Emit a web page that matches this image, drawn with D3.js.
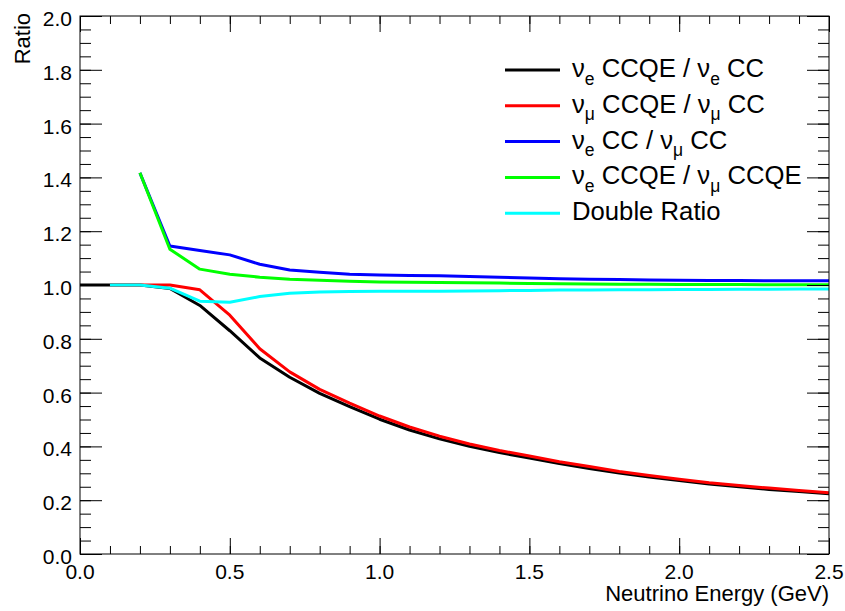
<!DOCTYPE html>
<html>
<head>
<meta charset="utf-8">
<script src="https://cdn.jsdelivr.net/npm/d3@7"></script>
<style>
  html, body { margin: 0; padding: 0; background: #fff; }
  svg { display: block; font-family: "Liberation Sans", Arial, Helvetica, sans-serif; }
</style>
</head>
<body>
<svg id="chart" width="845" height="611"></svg>
<script>
// Neutrino energy (GeV) at which each ratio is evaluated
const energy = [0.0, 0.1, 0.2, 0.3, 0.4, 0.5, 0.6, 0.7, 0.8, 0.9, 1.0, 1.1, 1.2,
                1.3, 1.4, 1.5, 1.6, 1.7, 1.8, 1.9, 2.0, 2.1, 2.2, 2.3, 2.4, 2.5];

// nu_e CCQE / nu_e CC
const nueQEoverCC = [1.0, 1.0, 1.0, 0.987, 0.924, 0.830, 0.729, 0.657, 0.597, 0.548, 0.501, 0.461, 0.428,
                     0.400, 0.377, 0.357, 0.336, 0.318, 0.301, 0.286, 0.273, 0.260, 0.250, 0.240, 0.232, 0.224];
// nu_mu CCQE / nu_mu CC
const numuQEoverCC = [null, 1.0, 1.0, 1.0, 0.982, 0.888, 0.763, 0.677, 0.612, 0.561, 0.513, 0.472, 0.438,
                      0.409, 0.385, 0.364, 0.343, 0.325, 0.307, 0.292, 0.278, 0.265, 0.255, 0.245, 0.236, 0.228];
// nu_e CC / nu_mu CC
const nueCCoverNumuCC = [null, null, 1.417, 1.145, 1.128, 1.112, 1.077, 1.056, 1.047, 1.040, 1.037, 1.035, 1.034,
                         1.032, 1.029, 1.026, 1.023, 1.021, 1.020, 1.019, 1.018, 1.017, 1.017, 1.016, 1.016, 1.016];
// nu_e CCQE / nu_mu CCQE
const nueQEoverNumuQE = [null, null, 1.417, 1.133, 1.059, 1.040, 1.029, 1.021, 1.018, 1.014, 1.011, 1.010, 1.009,
                         1.008, 1.007, 1.006, 1.005, 1.004, 1.003, 1.003, 1.002, 1.002, 1.002, 1.001, 1.001, 1.001];
// (nu_e CCQE / nu_e CC) / (nu_mu CCQE / nu_mu CC)
const doubleRatio = [null, 1.0, 1.0, 0.988, 0.940, 0.936, 0.957, 0.969, 0.974, 0.976, 0.977, 0.977, 0.977,
                     0.978, 0.979, 0.980, 0.981, 0.981, 0.982, 0.982, 0.983, 0.983, 0.984, 0.984, 0.985, 0.985];

const xTicks = [0.0, 0.5, 1.0, 1.5, 2.0, 2.5];
const yTicks = [0.0, 0.2, 0.4, 0.6, 0.8, 1.0, 1.2, 1.4, 1.6, 1.8, 2.0];

const series = [
  { values: nueQEoverCC,     color: "#000000", label: [["ν"], ["e", "sub"], [" CCQE / ν"], ["e", "sub"], [" CC"]] },
  { values: numuQEoverCC,    color: "#ff0000", label: [["ν"], ["μ", "sub"], [" CCQE / ν"], ["μ", "sub"], [" CC"]] },
  { values: nueCCoverNumuCC, color: "#0000ff", label: [["ν"], ["e", "sub"], [" CC / ν"], ["μ", "sub"], [" CC"]] },
  { values: nueQEoverNumuQE, color: "#00ff00", label: [["ν"], ["e", "sub"], [" CCQE / ν"], ["μ", "sub"], [" CCQE"]] },
  { values: doubleRatio,     color: "#00ffff", label: [["Double Ratio"]] }
];

const frame = { left: 80, right: 829, top: 16, bottom: 554 };
const svg = d3.select("#chart");

const x = d3.scaleLinear().domain([0, 2.5]).range([frame.left, frame.right]);
const y = d3.scaleLinear().domain([0, 2]).range([frame.bottom, frame.top]);

svg.append("defs").append("clipPath").attr("id", "plot-clip")
  .append("rect")
  .attr("x", frame.left).attr("y", frame.top)
  .attr("width", frame.right - frame.left).attr("height", frame.bottom - frame.top);

// Curves
const line = d3.line()
  .defined(d => d[1] != null)
  .x(d => x(d[0]))
  .y(d => y(d[1]));

const curves = svg.append("g").attr("clip-path", "url(#plot-clip)");
series.forEach(s => {
  curves.append("path")
    .datum(energy.map((e, i) => [e, s.values[i]]))
    .attr("fill", "none")
    .attr("stroke", s.color)
    .attr("stroke-width", 3)
    .attr("stroke-linejoin", "round")
    .attr("d", line);
});

// Frame
svg.append("rect")
  .attr("x", frame.left).attr("y", frame.top)
  .attr("width", frame.right - frame.left).attr("height", frame.bottom - frame.top)
  .attr("fill", "none").attr("stroke", "#000").attr("stroke-width", 1);

// Axes with ticks drawn inward on all four sides
const xMinor = x.ticks(25);
const yMinor = y.ticks(40);

const axisStyle = g => {
  g.select(".domain").remove();
  g.selectAll(".tick line").attr("stroke", "#000").attr("stroke-width", 1);
};

svg.append("g").attr("transform", `translate(0,${frame.bottom})`)
  .call(d3.axisTop(x).tickValues(xMinor).tickSize(8).tickFormat(""))
  .call(axisStyle);
svg.append("g").attr("transform", `translate(0,${frame.bottom})`)
  .call(d3.axisTop(x).tickValues(xTicks).tickSize(16).tickFormat(""))
  .call(axisStyle);
svg.append("g").attr("transform", `translate(0,${frame.top})`)
  .call(d3.axisBottom(x).tickValues(xMinor).tickSize(8).tickFormat(""))
  .call(axisStyle);
svg.append("g").attr("transform", `translate(0,${frame.top})`)
  .call(d3.axisBottom(x).tickValues(xTicks).tickSize(16).tickFormat(""))
  .call(axisStyle);

svg.append("g").attr("transform", `translate(${frame.left},0)`)
  .call(d3.axisRight(y).tickValues(yMinor).tickSize(11).tickFormat(""))
  .call(axisStyle);
svg.append("g").attr("transform", `translate(${frame.left},0)`)
  .call(d3.axisRight(y).tickValues(yTicks).tickSize(22).tickFormat(""))
  .call(axisStyle);
svg.append("g").attr("transform", `translate(${frame.right},0)`)
  .call(d3.axisLeft(y).tickValues(yMinor).tickSize(11).tickFormat(""))
  .call(axisStyle);
svg.append("g").attr("transform", `translate(${frame.right},0)`)
  .call(d3.axisLeft(y).tickValues(yTicks).tickSize(22).tickFormat(""))
  .call(axisStyle);

// Tick labels
svg.append("g").selectAll("text").data(xTicks).join("text")
  .attr("x", d => x(d)).attr("y", frame.bottom + 25)
  .attr("text-anchor", "middle")
  .attr("font-size", 21)
  .text(d => d3.format(".1f")(d));

svg.append("g").selectAll("text").data(yTicks).join("text")
  .attr("x", frame.left - 8).attr("y", d => y(d) + 10)
  .attr("text-anchor", "end")
  .attr("font-size", 21)
  .text(d => d3.format(".1f")(d));

// Axis titles
svg.append("text")
  .attr("x", frame.right).attr("y", 601)
  .attr("text-anchor", "end")
  .attr("font-size", 22)
  .text("Neutrino Energy (GeV)");

svg.append("text")
  .attr("transform", "translate(30,13) rotate(-90)")
  .attr("text-anchor", "end")
  .attr("font-size", 22)
  .text("Ratio");

// Legend
const legend = svg.append("g");
const legendTop = 70, legendStep = 35.8;
series.forEach((s, i) => {
  const ly = legendTop + i * legendStep;
  legend.append("line")
    .attr("x1", 505).attr("x2", 560)
    .attr("y1", ly).attr("y2", ly)
    .attr("stroke", s.color).attr("stroke-width", 3);
  const t = legend.append("text")
    .attr("x", 572).attr("y", ly + 7)
    .attr("font-size", 25.7);
  s.label.forEach(([str, kind]) => {
    if (kind === "sub") {
      t.append("tspan").attr("font-size", 17.5).attr("dy", 7.5).text(str);
    } else {
      const sp = t.append("tspan").text(str);
      const prev = t.selectAll("tspan").size() > 1;
      if (prev) sp.attr("dy", -7.5);
    }
  });
});
</script>
</body>
</html>
